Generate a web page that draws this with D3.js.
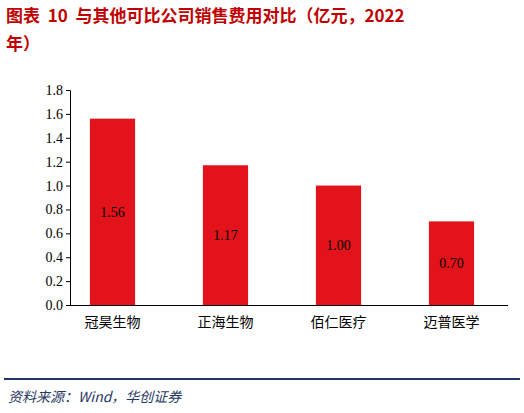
<!DOCTYPE html>
<html><head><meta charset="utf-8">
<script src="https://cdn.jsdelivr.net/npm/d3@7"></script>
<style>body{margin:0;background:#fff}</style></head>
<body><svg id="c" width="524" height="413"></svg>
<script>
const categories=["冠昊生物","正海生物","佰仁医疗","迈普医学"];
const values=[1.56,1.17,1.00,0.70];
const ticks=[0,0.2,0.4,0.6,0.8,1.0,1.2,1.4,1.6,1.8];
const svg=d3.select("#c");
const red="#c00000";
const t=svg.append("text").attr("font-family","'Noto Sans CJK SC',serif").attr("font-weight","bold").attr("font-size",17).attr("fill",red).attr("xml:space","preserve");
t.append("tspan").attr("x",6).attr("y",22).text("图表  10  与其他可比公司销售费用对比（亿元，2022");
t.append("tspan").attr("x",6).attr("y",50).text("年）");
const y=d3.scaleLinear().domain([0,1.8]).range([305,90]);
const x=d3.scaleBand().domain(categories).range([56,508]).paddingInner(0.6).paddingOuter(0.3);
svg.append("g").attr("transform","translate(70,0)").call(d3.axisLeft(y).tickValues(ticks).tickFormat(d3.format(".1f")).tickSize(4))
 .call(g=>{g.selectAll("text").attr("font-family","'Times New Roman','Liberation Serif',serif").attr("font-size",14).attr("fill","#000");g.selectAll("line,path").attr("stroke","#000");});
svg.append("g").attr("transform","translate(0,305)").call(d3.axisBottom(x).tickSize(0).tickPadding(12))
 .call(g=>{g.select("path").remove();g.selectAll("text").attr("font-family","'Noto Sans CJK SC',sans-serif").attr("font-size",14).attr("fill","#000");});
svg.append("line").attr("x1",70).attr("x2",508).attr("y1",305.5).attr("y2",305.5).attr("stroke","#000");
svg.selectAll("rect.b").data(values).join("rect").attr("class","b")
 .attr("x",(d,i)=>x(categories[i])).attr("width",x.bandwidth()).attr("y",d=>y(d)).attr("height",d=>305-y(d)).attr("fill","#e3131b");
svg.selectAll("text.v").data(values).join("text").attr("class","v")
 .attr("x",(d,i)=>x(categories[i])+x.bandwidth()/2).attr("y",d=>(y(d)+305)/2+5).attr("text-anchor","middle")
 .attr("font-family","'Times New Roman','Liberation Serif',serif").attr("font-size",14).text(d=>d.toFixed(2));
svg.append("line").attr("x1",4).attr("x2",520).attr("y1",379).attr("y2",379).attr("stroke","#1f3864").attr("stroke-width",2);
svg.append("text").attr("x",8).attr("y",402).attr("font-family","'Noto Sans CJK SC',serif").attr("font-style","italic").attr("font-size",14).attr("fill","#1f3864").text("资料来源：Wind，华创证券");
</script></body></html>
